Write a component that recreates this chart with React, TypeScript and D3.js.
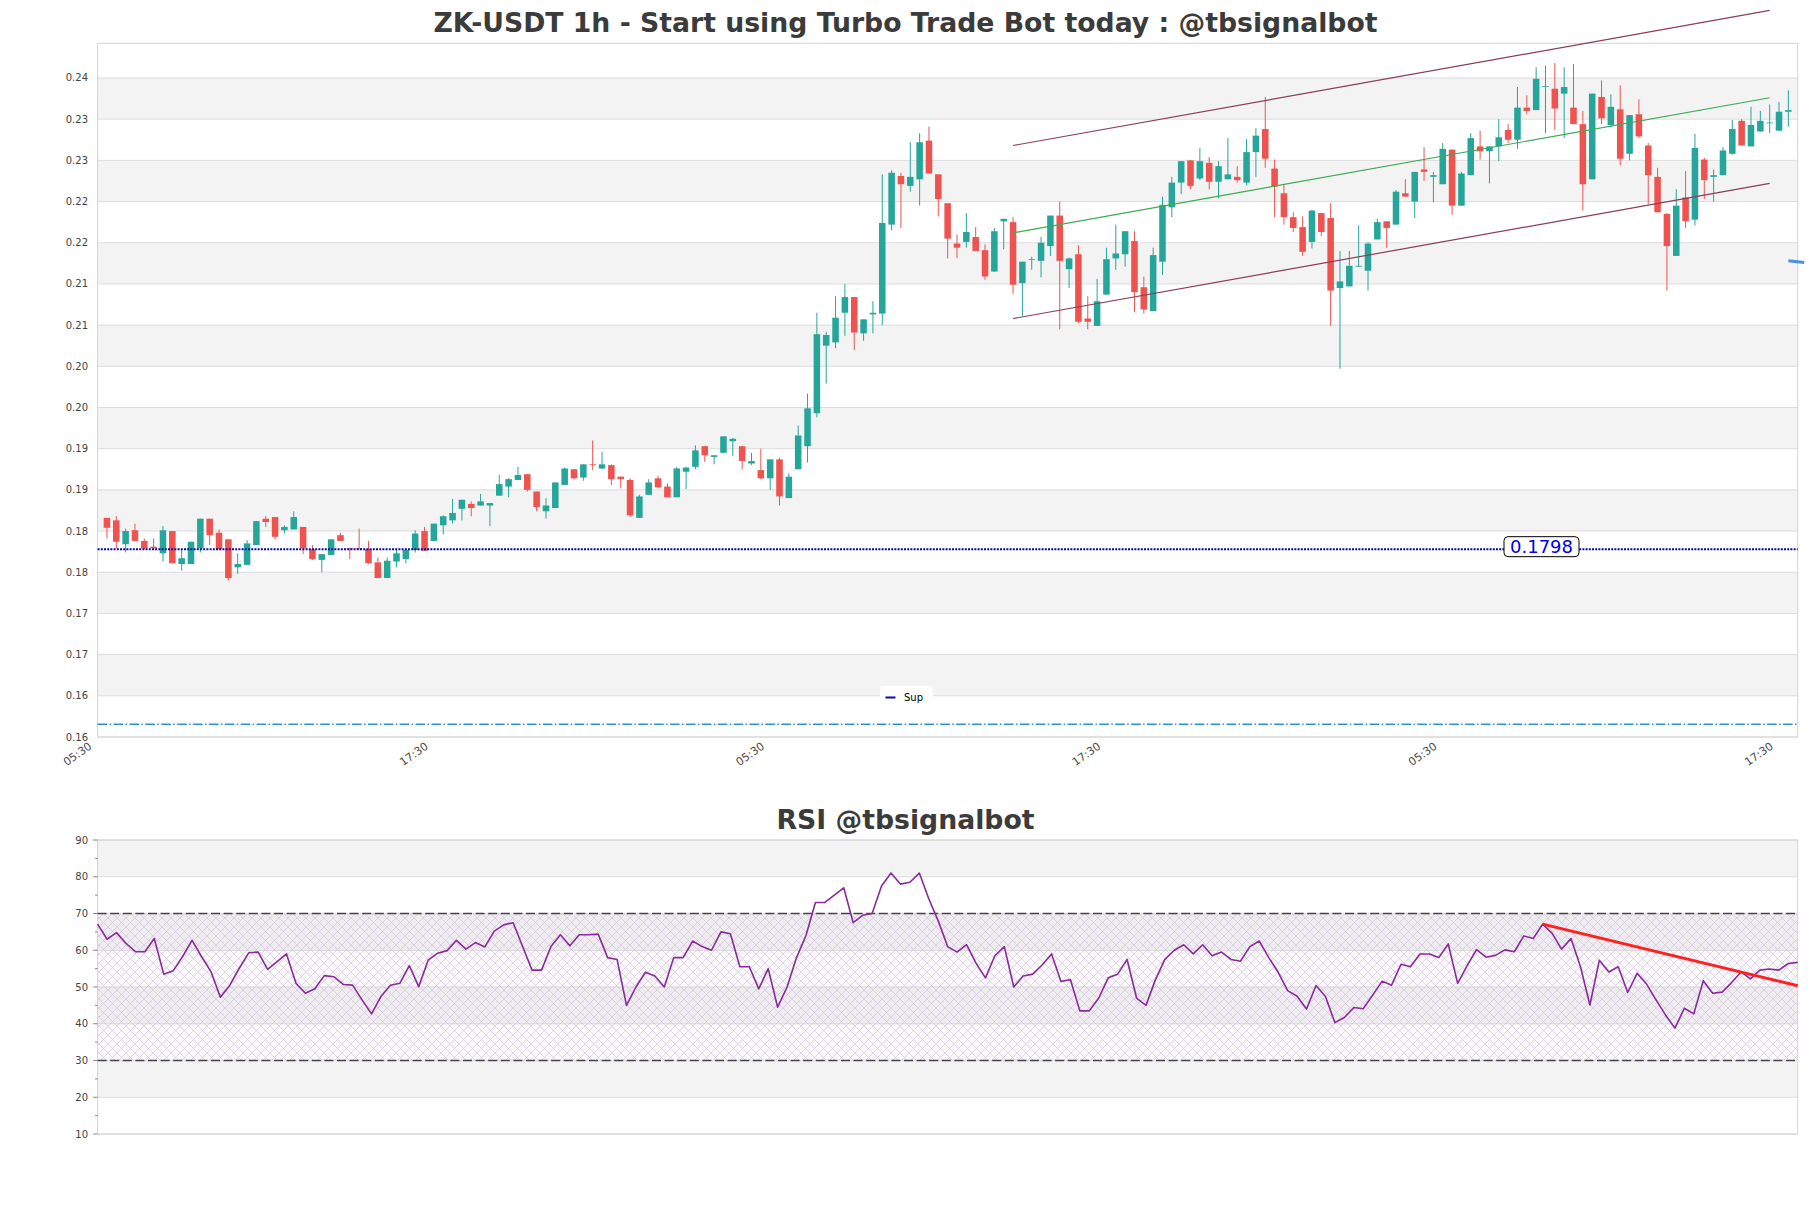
import React from 'react';
import * as d3 from 'd3';

// ---------- data ----------
const OPEN = [
  0.1836, 0.1833, 0.1804, 0.1821, 0.1808, 0.1801, 0.1793, 0.1820, 0.1780, 0.1780,
  0.1799, 0.1835, 0.1818, 0.1810, 0.1776, 0.1779, 0.1803, 0.1835, 0.1837, 0.1821,
  0.1822, 0.1825, 0.1798, 0.1785, 0.1791, 0.1815, 0.1799, 0.1799, 0.1798, 0.1782,
  0.1763, 0.1783, 0.1786, 0.1797, 0.1820, 0.1808, 0.1827, 0.1833, 0.1847, 0.1853,
  0.1851, 0.1851, 0.1863, 0.1874, 0.1882, 0.1889, 0.1868, 0.1844, 0.1848, 0.1876,
  0.1895, 0.1885, 0.1901, 0.1896, 0.1900, 0.1886, 0.1882, 0.1836, 0.1864, 0.1884,
  0.1874, 0.1861, 0.1892, 0.1898, 0.1923, 0.1910, 0.1915, 0.1929, 0.1923, 0.1902,
  0.1894, 0.1884, 0.1907, 0.1860, 0.1895, 0.1923, 0.1963, 0.2045, 0.2049, 0.2085,
  0.2104, 0.2060, 0.2083, 0.2084, 0.2192, 0.2251, 0.2239, 0.2247, 0.2294, 0.2253,
  0.2218, 0.2169, 0.2171, 0.2177, 0.2161, 0.2135, 0.2196, 0.2195, 0.2121, 0.2149,
  0.2148, 0.2166, 0.2203, 0.2138, 0.2156, 0.2078, 0.2069, 0.2107, 0.2151, 0.2156,
  0.2172, 0.2116, 0.2087, 0.2147, 0.2213, 0.2243, 0.2270, 0.2248, 0.2267, 0.2244,
  0.2247, 0.2250, 0.2243, 0.2280, 0.2308, 0.2260, 0.2230, 0.2201, 0.2189, 0.2171,
  0.2206, 0.2200, 0.2115, 0.2117, 0.2141, 0.2136, 0.2174, 0.2196, 0.2192, 0.2230,
  0.2220, 0.2259, 0.2250, 0.2241, 0.2283, 0.2215, 0.2252, 0.2287, 0.2281, 0.2287,
  0.2307, 0.2295, 0.2334, 0.2331, 0.2359, 0.2357, 0.2351, 0.2334, 0.2314, 0.2247,
  0.2347, 0.2313, 0.2332, 0.2278, 0.2326, 0.2288, 0.2250, 0.2205, 0.2154, 0.2225,
  0.2198, 0.2271, 0.2250, 0.2252, 0.2278, 0.2318, 0.2287, 0.2305, 0.2315, 0.2306,
  0.2329,
];
const HIGH = [
  0.1836, 0.1838, 0.1823, 0.1829, 0.1811, 0.1811, 0.1826, 0.1820, 0.1798, 0.1807,
  0.1835, 0.1835, 0.1822, 0.1810, 0.1793, 0.1809, 0.1832, 0.1838, 0.1837, 0.1827,
  0.1844, 0.1825, 0.1803, 0.1792, 0.1810, 0.1818, 0.1799, 0.1823, 0.1808, 0.1788,
  0.1788, 0.1798, 0.1799, 0.1821, 0.1825, 0.1829, 0.1839, 0.1859, 0.1858, 0.1856,
  0.1865, 0.1854, 0.1888, 0.1884, 0.1898, 0.1889, 0.1868, 0.1860, 0.1879, 0.1897,
  0.1895, 0.1901, 0.1930, 0.1916, 0.1901, 0.1886, 0.1884, 0.1864, 0.1883, 0.1887,
  0.1878, 0.1898, 0.1898, 0.1924, 0.1923, 0.1912, 0.1935, 0.1933, 0.1923, 0.1915,
  0.1920, 0.1907, 0.1909, 0.1890, 0.1948, 0.1987, 0.2085, 0.2062, 0.2105, 0.2120,
  0.2104, 0.2077, 0.2099, 0.2253, 0.2258, 0.2255, 0.2292, 0.2303, 0.2311, 0.2253,
  0.2218, 0.2180, 0.2206, 0.2189, 0.2168, 0.2188, 0.2199, 0.2201, 0.2147, 0.2153,
  0.2177, 0.2203, 0.2220, 0.2152, 0.2167, 0.2105, 0.2126, 0.2164, 0.2192, 0.2184,
  0.2184, 0.2129, 0.2164, 0.2226, 0.2250, 0.2269, 0.2270, 0.2285, 0.2274, 0.2269,
  0.2297, 0.2263, 0.2296, 0.2309, 0.2347, 0.2271, 0.2241, 0.2207, 0.2202, 0.2210,
  0.2206, 0.2218, 0.2160, 0.2160, 0.2191, 0.2171, 0.2199, 0.2196, 0.2234, 0.2247,
  0.2256, 0.2286, 0.2256, 0.2291, 0.2283, 0.2256, 0.2303, 0.2306, 0.2287, 0.2320,
  0.2314, 0.2359, 0.2349, 0.2383, 0.2385, 0.2388, 0.2383, 0.2387, 0.2330, 0.2351,
  0.2367, 0.2350, 0.2361, 0.2325, 0.2344, 0.2291, 0.2261, 0.2206, 0.2235, 0.2257,
  0.2302, 0.2273, 0.2259, 0.2286, 0.2319, 0.2320, 0.2335, 0.2330, 0.2338, 0.2341,
  0.2355,
];
const LOW = [
  0.1811, 0.1799, 0.1794, 0.1808, 0.1798, 0.1798, 0.1783, 0.1781, 0.1772, 0.1780,
  0.1794, 0.1803, 0.1797, 0.1760, 0.1768, 0.1779, 0.1803, 0.1825, 0.1810, 0.1817,
  0.1822, 0.1792, 0.1785, 0.1770, 0.1791, 0.1808, 0.1786, 0.1798, 0.1780, 0.1763,
  0.1763, 0.1776, 0.1781, 0.1794, 0.1796, 0.1808, 0.1816, 0.1829, 0.1833, 0.1838,
  0.1851, 0.1826, 0.1863, 0.1861, 0.1882, 0.1868, 0.1844, 0.1835, 0.1848, 0.1876,
  0.1883, 0.1881, 0.1894, 0.1895, 0.1876, 0.1872, 0.1837, 0.1836, 0.1864, 0.1872,
  0.1861, 0.1861, 0.1871, 0.1895, 0.1904, 0.1901, 0.1915, 0.1911, 0.1895, 0.1900,
  0.1883, 0.1870, 0.1851, 0.1860, 0.1895, 0.1903, 0.1958, 0.1999, 0.2042, 0.2057,
  0.2040, 0.2051, 0.2060, 0.2070, 0.2185, 0.2188, 0.2232, 0.2215, 0.2254, 0.2202,
  0.2151, 0.2151, 0.2164, 0.2160, 0.2125, 0.2135, 0.2162, 0.2108, 0.2081, 0.2137,
  0.2128, 0.2154, 0.2065, 0.2115, 0.2072, 0.2065, 0.2069, 0.2107, 0.2137, 0.2141,
  0.2086, 0.2084, 0.2087, 0.2131, 0.2201, 0.2229, 0.2235, 0.2246, 0.2235, 0.2224,
  0.2247, 0.2243, 0.2240, 0.2250, 0.2261, 0.2201, 0.2192, 0.2183, 0.2154, 0.2163,
  0.2178, 0.2069, 0.2017, 0.2117, 0.2141, 0.2112, 0.2174, 0.2164, 0.2192, 0.2226,
  0.2200, 0.2245, 0.2219, 0.2241, 0.2204, 0.2215, 0.2252, 0.2271, 0.2242, 0.2269,
  0.2291, 0.2284, 0.2326, 0.2331, 0.2303, 0.2307, 0.2297, 0.2314, 0.2209, 0.2247,
  0.2314, 0.2310, 0.2264, 0.2270, 0.2297, 0.2217, 0.2207, 0.2112, 0.2154, 0.2188,
  0.2191, 0.2223, 0.2220, 0.2252, 0.2277, 0.2288, 0.2287, 0.2305, 0.2303, 0.2306,
  0.2311,
];
const CLOSE = [
  0.1824, 0.1807, 0.1820, 0.1808, 0.1799, 0.1799, 0.1821, 0.1781, 0.1787, 0.1807,
  0.1835, 0.1815, 0.1798, 0.1763, 0.1780, 0.1805, 0.1832, 0.1831, 0.1813, 0.1825,
  0.1837, 0.1799, 0.1786, 0.1792, 0.1810, 0.1808, 0.1798, 0.1798, 0.1781, 0.1763,
  0.1784, 0.1793, 0.1797, 0.1817, 0.1796, 0.1829, 0.1838, 0.1842, 0.1858, 0.1848,
  0.1856, 0.1854, 0.1877, 0.1883, 0.1888, 0.1870, 0.1849, 0.1851, 0.1879, 0.1896,
  0.1884, 0.1901, 0.1900, 0.1901, 0.1883, 0.1883, 0.1839, 0.1862, 0.1879, 0.1873,
  0.1861, 0.1896, 0.1897, 0.1918, 0.1912, 0.1912, 0.1935, 0.1932, 0.1905, 0.1905,
  0.1884, 0.1907, 0.1862, 0.1886, 0.1936, 0.1969, 0.2059, 0.2058, 0.2079, 0.2104,
  0.2061, 0.2077, 0.2085, 0.2194, 0.2255, 0.2241, 0.2250, 0.2292, 0.2254, 0.2223,
  0.2175, 0.2164, 0.2183, 0.2160, 0.2129, 0.2184, 0.2199, 0.2119, 0.2147, 0.2150,
  0.2170, 0.2203, 0.2148, 0.2151, 0.2074, 0.2074, 0.2099, 0.2150, 0.2157, 0.2184,
  0.2110, 0.2089, 0.2155, 0.2216, 0.2243, 0.2269, 0.2239, 0.2269, 0.2244, 0.2263,
  0.2253, 0.2246, 0.2280, 0.2300, 0.2272, 0.2238, 0.2201, 0.2188, 0.2159, 0.2209,
  0.2183, 0.2112, 0.2123, 0.2142, 0.2142, 0.2169, 0.2195, 0.2188, 0.2232, 0.2226,
  0.2256, 0.2256, 0.2252, 0.2284, 0.2215, 0.2254, 0.2297, 0.2281, 0.2287, 0.2298,
  0.2295, 0.2334, 0.2330, 0.2369, 0.2360, 0.2333, 0.2359, 0.2314, 0.2241, 0.2351,
  0.2321, 0.2335, 0.2272, 0.2325, 0.2299, 0.2252, 0.2207, 0.2166, 0.2215, 0.2196,
  0.2285, 0.2246, 0.2252, 0.2282, 0.2308, 0.2288, 0.2313, 0.2318, 0.2316, 0.2329,
  0.2331,
];
const RSI = [
  67.1, 63.0, 64.8, 61.9, 59.6, 59.6, 63.2, 53.5, 54.4, 58.3,
  62.7, 58.3, 54.2, 47.2, 50.5, 55.1, 59.3, 59.5, 54.8, 56.9,
  59.0, 51.0, 48.3, 49.5, 53.1, 52.8, 50.7, 50.5, 46.5, 42.7,
  47.4, 50.5, 51.0, 55.8, 50.1, 57.3, 59.2, 59.9, 62.7, 60.3,
  62.1, 60.9, 65.2, 66.9, 67.5, 61.0, 54.6, 54.6, 61.0, 64.2,
  61.2, 64.2, 64.2, 64.4, 58.0, 57.5, 45.0, 50.0, 54.0, 53.0,
  50.0, 58.0, 58.0, 62.5, 61.0, 60.0, 65.0, 64.5, 55.5, 55.5,
  49.5, 55.0, 44.5, 50.0, 58.0, 64.0, 73.0, 73.0, 75.0, 77.0,
  67.5, 69.5, 70.0, 77.5, 81.0, 78.0, 78.5, 81.0, 74.0, 68.0,
  61.0, 59.5, 61.5, 56.5, 52.5, 58.5, 61.0, 50.0, 53.0, 53.5,
  56.0, 59.0, 51.5, 52.0, 43.5, 43.5, 47.0, 52.5, 53.5, 57.5,
  47.0, 45.0, 52.0, 57.5, 60.0, 61.5, 59.0, 61.5, 58.5, 59.5,
  57.5, 57.0, 61.0, 62.5, 58.0, 54.0, 49.0, 47.5, 44.0, 50.4,
  47.4, 40.3, 41.7, 44.4, 44.1, 47.8, 51.6, 50.5, 56.2, 55.5,
  59.0, 59.0, 58.0, 61.7, 51.0, 55.8, 60.2, 58.1, 58.6, 60.1,
  59.6, 63.9, 63.2, 67.1, 64.6, 60.3, 63.2, 55.5, 45.1, 57.3,
  54.1, 55.5, 48.5, 53.7, 50.8, 46.5, 42.4, 38.8, 44.2, 42.7,
  51.7, 48.3, 48.6, 51.2, 54.1, 52.2, 54.6, 54.9, 54.6, 56.4,
  56.7,
];

const X_TICK_INDEX = [-1, 35, 71, 107, 143, 179];
const X_TICK_LABELS = ['05:30', '17:30', '05:30', '17:30', '05:30', '17:30'];
const Y_TICKS = [0.157, 0.162, 0.167, 0.172, 0.177, 0.182, 0.187, 0.192, 0.197, 0.202, 0.207, 0.212, 0.217, 0.222, 0.227, 0.232, 0.237];
const RSI_TICKS = [10, 20, 30, 40, 50, 60, 70, 80, 90];
const RSI_MINOR = [15, 25, 35, 45, 55, 65, 75, 85];
const RSI_LEVELS = [30, 70];

const SUPPORT = 0.1798;
const SUPPORT_LABEL = '0.1798';
const LOW_LEVEL = 0.15854;
const CHANNEL_IDX = [97, 178];
const CHANNEL_UPPER = [0.2288, 0.2452];
const CHANNEL_MID = [0.2182, 0.2346];
const CHANNEL_LOWER = [0.2078, 0.2242];
const PROJ_IDX = [180, 181.7];
const PROJ_VAL = [0.2148, 0.2146];
const RSI_TREND_IDX = [153, 180];
const RSI_TREND_VAL = [67.1, 50.35];

const TITLE = 'ZK-USDT 1h - Start using Turbo Trade Bot today : @tbsignalbot';
const RSI_TITLE = 'RSI @tbsignalbot';

// ---------- layout ----------
const W = 1811;
const H = 1208;
const L = 97.6;
const RGT = 1797.7;
const MT = 43.3;
const MB = 737;
const RT = 840;
const RB = 1134;
const FONT = '"DejaVu Sans", Verdana, sans-serif';

export default function App() {
  const x = d3.scaleLinear().domain([-1, 181]).range([L, RGT]);
  const y = d3.scaleLinear().domain([0.157, 0.24121]).range([MB, MT]);
  const xr = d3.scaleLinear().domain([0, RSI.length - 1]).range([L, RGT]);
  const yr = d3.scaleLinear().domain([10, 90]).range([RB, RT]);
  const bw = (x(1) - x(0)) * 0.7;

  const line2 = (xs: number[], vs: number[], sx: any, sy: any) =>
    d3.line<number>().x((_, i) => sx(xs[i])).y((v) => sy(v))(vs) || '';

  const rsiPath = d3.line<number>().x((_, i) => xr(i)).y((v) => yr(v))(RSI) || '';

  const mainBands = Y_TICKS.slice(0, -1).map((t, k) =>
    k % 2 === 1 ? (
      <rect key={'b' + k} x={L} width={RGT - L} y={y(Y_TICKS[k + 1])} height={y(t) - y(Y_TICKS[k + 1])} fill="#f3f3f3" />
    ) : null
  );
  const rsiBands = RSI_TICKS.slice(0, -1).map((t, k) =>
    k % 2 === 1 ? (
      <rect key={'rb' + k} x={L} width={RGT - L} y={yr(RSI_TICKS[k + 1])} height={yr(t) - yr(RSI_TICKS[k + 1])} fill="#f3f3f3" />
    ) : null
  );

  return (
    <svg width={W} height={H} style={{ position: 'absolute', left: 0, top: 0, display: 'block', background: '#fff' }} fontFamily={FONT}>
      <defs>
        <pattern id="hatch" width="9" height="9" patternUnits="userSpaceOnUse">
          <path d="M0,0 L9,9 M9,0 L0,9" stroke="#cdbfd8" strokeWidth="0.6" fill="none" />
        </pattern>
      </defs>
      <rect x={0} y={0} width={W} height={H} fill="#fff" />

      {/* ---- main chart ---- */}
      <text x={905.5} y={32} textAnchor="middle" fontSize={26.7} fontWeight="bold" fill="#3b3b3b">{TITLE}</text>
      {mainBands}
      {Y_TICKS.map((t) => (
        <line key={'g' + t} x1={L} x2={RGT} y1={y(t)} y2={y(t)} stroke="#dcdcdc" strokeWidth={1} />
      ))}
      <rect x={L} y={MT} width={RGT - L} height={MB - MT} fill="none" stroke="#d4d4d4" strokeWidth={1} />
      {Y_TICKS.map((t) => (
        <text key={'yl' + t} x={88} y={y(t) + 3.5} textAnchor="end" fontSize={10} fill="#444">{d3.format('.2f')(t)}</text>
      ))}
      {X_TICK_INDEX.map((t, k) => (
        <text key={'xl' + k} transform={`translate(${x(t) - 5},748) rotate(-35)`} textAnchor="end" fontSize={11} fill="#4a4a4a">{X_TICK_LABELS[k]}</text>
      ))}

      {/* dash-dot level */}
      <line x1={L} x2={RGT} y1={y(LOW_LEVEL)} y2={y(LOW_LEVEL)} stroke="#2a93d5" strokeWidth={1.4} strokeDasharray="9.6,2.4,1.5,2.4" />

      {/* candles */}
      {OPEN.map((o, i) => {
        const c = CLOSE[i];
        const up = c >= o;
        const col = up ? '#26a69a' : '#ef5350';
        const top = y(Math.max(o, c));
        const bot = y(Math.min(o, c));
        return (
          <g key={'c' + i}>
            <line x1={x(i)} x2={x(i)} y1={y(HIGH[i])} y2={y(LOW[i])} stroke={col} strokeWidth={1} />
            <rect x={x(i) - bw / 2} width={bw} y={top} height={Math.max(bot - top, 0.8)} fill={col} />
          </g>
        );
      })}

      {/* support */}
      <line x1={L} x2={RGT} y1={y(SUPPORT)} y2={y(SUPPORT)} stroke="#0a0aa8" strokeWidth={2} strokeDasharray="2,1.2" />

      {/* channel */}
      <path d={line2(CHANNEL_IDX, CHANNEL_UPPER, x, y)} stroke="#8b3d57" strokeWidth={1.2} fill="none" />
      <path d={line2(CHANNEL_IDX, CHANNEL_MID, x, y)} stroke="#3cab52" strokeWidth={1.2} fill="none" />
      <path d={line2(CHANNEL_IDX, CHANNEL_LOWER, x, y)} stroke="#8b3d57" strokeWidth={1.2} fill="none" />
      <path d={line2(PROJ_IDX, PROJ_VAL, x, y)} stroke="#4a8fe0" strokeWidth={3} fill="none" />

      {/* support label */}
      <rect x={1504} y={y(SUPPORT) - 12.5} width={75} height={20} rx={4} fill="#fff" stroke="#000" strokeWidth={1} />
      <text x={1541.5} y={y(SUPPORT) + 4} textAnchor="middle" fontSize={18} fill="#0000ee">{SUPPORT_LABEL}</text>

      {/* legend */}
      <rect x={880} y={686} width={53} height={18} rx={2} fill="#fff" fillOpacity={0.9} />
      <line x1={885.5} x2={895.5} y1={697.5} y2={697.5} stroke="#0a0aa8" strokeWidth={2} />
      <text x={904} y={701} fontSize={10} fill="#000">Sup</text>

      {/* ---- RSI chart ---- */}
      <text x={905.5} y={829} textAnchor="middle" fontSize={26.7} fontWeight="bold" fill="#3b3b3b">{RSI_TITLE}</text>
      {rsiBands}
      {RSI_TICKS.map((t) => (
        <line key={'rg' + t} x1={L} x2={RGT} y1={yr(t)} y2={yr(t)} stroke="#dcdcdc" strokeWidth={1} />
      ))}
      <rect x={L} y={yr(RSI_LEVELS[1])} width={RGT - L} height={yr(RSI_LEVELS[0]) - yr(RSI_LEVELS[1])} fill="#b89cc8" fillOpacity={0.07} />
      <rect x={L} y={yr(RSI_LEVELS[1])} width={RGT - L} height={yr(RSI_LEVELS[0]) - yr(RSI_LEVELS[1])} fill="url(#hatch)" />
      <rect x={L} y={RT} width={RGT - L} height={RB - RT} fill="none" stroke="#d4d4d4" strokeWidth={1} />
      {RSI_LEVELS.map((v) => (
        <line key={'lv' + v} x1={L} x2={RGT} y1={yr(v)} y2={yr(v)} stroke="#444" strokeWidth={1.4} strokeDasharray="9,3.6" />
      ))}
      {RSI_TICKS.map((t) => (
        <g key={'rt' + t}>
          <line x1={L - 4.5} x2={L} y1={yr(t)} y2={yr(t)} stroke="#666" strokeWidth={0.8} />
          <text x={88} y={yr(t) + 3.5} textAnchor="end" fontSize={10} fill="#444">{t}</text>
        </g>
      ))}
      {RSI_MINOR.map((t) => (
        <line key={'rm' + t} x1={L - 2.5} x2={L} y1={yr(t)} y2={yr(t)} stroke="#666" strokeWidth={0.8} />
      ))}
      <path d={rsiPath} stroke="#8b2a9b" strokeWidth={1.6} fill="none" strokeLinejoin="round" />
      <path d={line2(RSI_TREND_IDX, RSI_TREND_VAL, xr, yr)} stroke="#ff2020" strokeWidth={3} fill="none" />
    </svg>
  );
}
